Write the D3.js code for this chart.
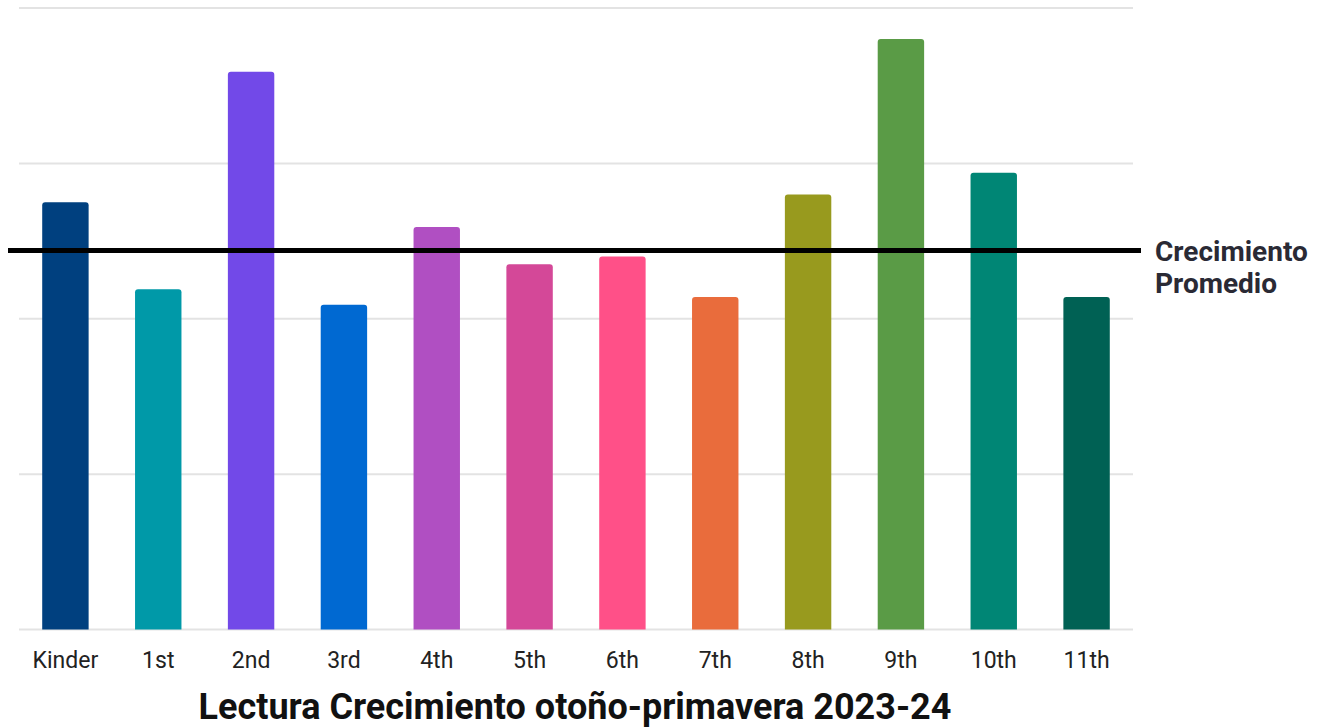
<!DOCTYPE html>
<html><head><meta charset="utf-8">
<script src="https://cdn.jsdelivr.net/npm/d3@7"></script>
<style>body{margin:0;background:#fff}svg{display:block;font-family:Roboto,sans-serif}</style>
</head><body><svg id="c" width="1326" height="727"></svg>
<script>
const grades = ["Kinder","1st","2nd","3rd","4th","5th","6th","7th","8th","9th","10th","11th"];
const growth = [2.75,2.19,3.59,2.09,2.59,2.35,2.40,2.14,2.80,3.80,2.94,2.14];
const colors = ["#00407f","#0099a8","#7249e8","#0069d2","#b04fc2","#d44898","#ff5088","#e96c3c","#989a1e","#5a9b46","#008675","#006154"];
const average = 2.44;
const gridTicks = [0,1,2,3,4];
const title = "Lectura Crecimiento otoño-primavera 2023-24";
const avgLabel = ["Crecimiento","Promedio"];

const svg = d3.select("#c");
const x = d3.scaleBand().domain(grades).range([19,1133]).paddingInner(0.5).paddingOuter(0.25);
const y = d3.scaleLinear().domain([0,4]).range([629.5,8]);

svg.append("g").selectAll("line").data(gridTicks).join("line")
  .attr("x1",19).attr("x2",1133).attr("y1",d=>y(d)).attr("y2",d=>y(d))
  .attr("stroke","#e3e3e3").attr("stroke-width",2);

const r = 3;
svg.append("g").selectAll("path").data(grades).join("path")
  .attr("fill",(d,i)=>colors[i])
  .attr("d",(d,i)=>{
    const x0=x(d), w=x.bandwidth(), y0=y(growth[i]), yb=y(0);
    return `M${x0},${yb}V${y0+r}Q${x0},${y0} ${x0+r},${y0}H${x0+w-r}Q${x0+w},${y0} ${x0+w},${y0+r}V${yb}Z`;
  });

svg.append("g").selectAll("text").data(grades).join("text")
  .attr("x",d=>x(d)+x.bandwidth()/2).attr("y",668)
  .attr("text-anchor","middle").attr("font-size",23).attr("fill","#222").text(d=>d);

svg.append("line").attr("x1",8).attr("x2",1141).attr("y1",y(average)).attr("y2",y(average))
  .attr("stroke","#000").attr("stroke-width",5);

svg.append("g").selectAll("text").data(avgLabel).join("text")
  .attr("x",1155).attr("y",(d,i)=>261+i*32).attr("font-size",28).attr("font-weight",700)
  .attr("fill","#2a2a35").text(d=>d);

svg.append("text").attr("x",575).attr("y",718.5).attr("text-anchor","middle")
  .attr("font-size",36).attr("font-weight",700).attr("fill","#111").text(title);
</script></body></html>
